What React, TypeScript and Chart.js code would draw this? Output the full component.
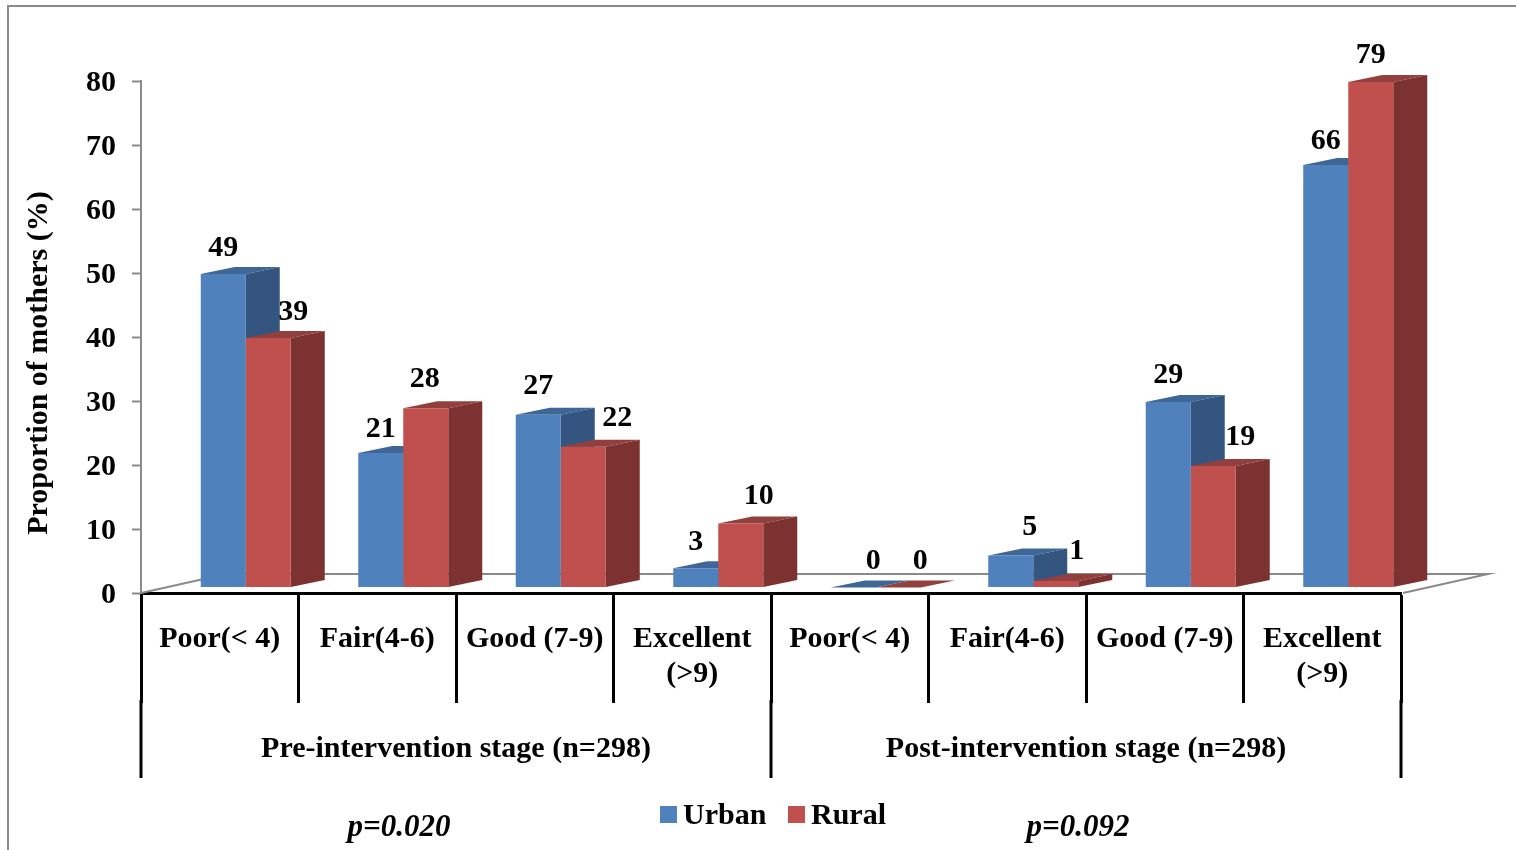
import React, { useEffect, useRef } from "react";
import { Chart, registerables } from "chart.js";

Chart.register(...registerables);

const categories: (string | string[])[] = [
  "Poor(< 4)",
  "Fair(4-6)",
  "Good (7-9)",
  ["Excellent", "(>9)"],
  "Poor(< 4)",
  "Fair(4-6)",
  "Good (7-9)",
  ["Excellent", "(>9)"],
];
const urban = [49, 21, 27, 3, 0, 5, 29, 66];
const rural = [39, 28, 22, 10, 0, 1, 19, 79];
const stages = ["Pre-intervention stage (n=298)", "Post-intervention stage (n=298)"];
const pValues = ["p=0.020", "p=0.092"];
const seriesNames = ["Urban", "Rural"];
const yTitle = "Proportion of mothers (%)";

// Nudges that keep the value labels clear of neighbouring columns.
const urbanLabelDx = [0, 0, 0, 0, 20, 19, 0, 0];
const ruralLabelDx = [25, -1, 34, 18, 22, 21, 27, 0];
const urbanLabelDy = [1, 3, -1, 1, 1, -1, 0, 3];
const ruralLabelDy = [1, -2, -1, 0, 1, -3, -2, 0];

const FONT = '"Liberation Serif"';
const BLUE = "#4F81BD";
const RED = "#C0504D";
const BLUE_TOP = "#3E6797";
const BLUE_SIDE = "#34557F";
const RED_TOP = "#92403D";
const RED_SIDE = "#7C3230";
const GREY = "#8A8A8A";

// Projection of the 3D look: front faces sit forward of the axis plane,
// and each column has depth running up and to the right.
const FRONT_DX = 26;
const FRONT_DY = -5.5;
const DEPTH_DX = 34;
const DEPTH_DY = -7;
const LABEL_LIFT = 27;

function drawFaces(ctx: any, meta: any, isUrban: boolean) {
  meta.data.forEach((bar: any) => {
    const half = bar.width / 2;
    const l = bar.x - half;
    const r = bar.x + half;
    const t = bar.y;
    const base = bar.base;
    // top face
    ctx.fillStyle = isUrban ? BLUE_TOP : RED_TOP;
    ctx.beginPath();
    ctx.moveTo(l, t);
    ctx.lineTo(l + DEPTH_DX, t + DEPTH_DY);
    ctx.lineTo(r + DEPTH_DX, t + DEPTH_DY);
    ctx.lineTo(r, t);
    ctx.closePath();
    ctx.fill();
    // side face
    if (base - t > 0) {
      ctx.fillStyle = isUrban ? BLUE_SIDE : RED_SIDE;
      ctx.beginPath();
      ctx.moveTo(r, t);
      ctx.lineTo(r + DEPTH_DX, t + DEPTH_DY);
      ctx.lineTo(r + DEPTH_DX, base + DEPTH_DY);
      ctx.lineTo(r, base);
      ctx.closePath();
      ctx.fill();
    }
  });
}

const box3d = {
  id: "box3d",
  beforeDatasetsDraw(chart: any) {
    const { ctx, chartArea } = chart;
    const b = chartArea.bottom;
    ctx.save();
    // Floor of the 3D plot
    ctx.strokeStyle = GREY;
    ctx.lineWidth = 2;
    ctx.beginPath();
    ctx.moveTo(chartArea.left, b);
    ctx.lineTo(chartArea.left + 85, b - 19);
    ctx.lineTo(chartArea.right + 87, b - 19);
    ctx.lineTo(chartArea.right + 2, b);
    ctx.stroke();
    // Urban depth faces go first so the rural columns can cover them
    ctx.translate(FRONT_DX, FRONT_DY);
    drawFaces(ctx, chart.getDatasetMeta(0), true);
    ctx.restore();
  },
  beforeDatasetDraw(chart: any, args: any) {
    const { ctx } = chart;
    ctx.save();
    ctx.translate(FRONT_DX, FRONT_DY);
    if (args.index === 1) drawFaces(ctx, args.meta, false);
  },
  afterDatasetDraw(chart: any) {
    chart.ctx.restore();
  },
};

const annotations = {
  id: "annotations",
  beforeDraw(chart: any) {
    // Outer chart frame: left and top edges only
    const { ctx, width, height } = chart;
    ctx.save();
    ctx.strokeStyle = GREY;
    ctx.lineWidth = 2;
    ctx.beginPath();
    ctx.moveTo(8, height);
    ctx.lineTo(8, 6);
    ctx.lineTo(width, 6);
    ctx.stroke();
    ctx.restore();
  },
  afterDatasetsDraw(chart: any) {
    const { ctx } = chart;
    const x = chart.scales.x;
    ctx.save();
    ctx.fillStyle = "#000";
    ctx.textAlign = "center";
    ctx.textBaseline = "middle";

    // Value labels above each column
    ctx.font = `bold 30px ${FONT}`;
    chart.getDatasetMeta(0).data.forEach((bar: any, i: number) => {
      ctx.fillText(
        String(urban[i]),
        bar.x + FRONT_DX + urbanLabelDx[i],
        bar.y + FRONT_DY - LABEL_LIFT + urbanLabelDy[i]
      );
    });
    chart.getDatasetMeta(1).data.forEach((bar: any, i: number) => {
      ctx.fillText(
        String(rural[i]),
        bar.x + FRONT_DX + ruralLabelDx[i],
        bar.y + FRONT_DY - LABEL_LIFT + ruralLabelDy[i]
      );
    });

    // Second level of the category axis
    const band = x.getPixelForValue(1) - x.getPixelForValue(0);
    const edge = (i: number) => x.getPixelForValue(0) - band / 2 + i * band;
    ctx.strokeStyle = "#000";
    ctx.lineWidth = 3;
    [0, 4, 8].forEach((i) => {
      ctx.beginPath();
      ctx.moveTo(edge(i), 700);
      ctx.lineTo(edge(i), 778);
      ctx.stroke();
    });
    stages.forEach((s, i) => ctx.fillText(s, edge(i * 4 + 2), 749));

    // Significance notes under each stage
    ctx.font = `italic bold 31px ${FONT}`;
    ctx.fillText(pValues[0], edge(2) - 57, 828);
    ctx.fillText(pValues[1], edge(6) - 8, 828);

    // Legend
    const items = chart.data.datasets;
    const legendX = [660, 788];
    ctx.textAlign = "left";
    ctx.font = `bold 30px ${FONT}`;
    items.forEach((d: any, i: number) => {
      ctx.fillStyle = d.backgroundColor;
      ctx.fillRect(legendX[i], 806, 17, 17);
      ctx.fillStyle = "#000";
      ctx.fillText(d.label, legendX[i] + 23, 816);
    });

    // Rotated value-axis title
    ctx.translate(39, 363);
    ctx.rotate(-Math.PI / 2);
    ctx.textAlign = "center";
    ctx.fillText(yTitle, 0, 0);
    ctx.restore();
  },
};

export default function App() {
  const ref = useRef<HTMLCanvasElement>(null);

  useEffect(() => {
    document.body.style.margin = "0";
    const chart = new Chart(ref.current as HTMLCanvasElement, {
      type: "bar",
      data: {
        labels: categories,
        datasets: [
          { label: seriesNames[0], data: urban, backgroundColor: BLUE, borderWidth: 0, clip: false },
          { label: seriesNames[1], data: rural, backgroundColor: RED, borderWidth: 0, clip: false },
        ],
      },
      options: {
        responsive: false,
        animation: false,
        devicePixelRatio: 1,
        layout: { padding: { top: 81, right: 115, bottom: 60, left: 0 } },
        datasets: { bar: { categoryPercentage: 0.5714, barPercentage: 1 } },
        plugins: { legend: { display: false }, title: { display: false }, tooltip: { enabled: false } },
        scales: {
          x: {
            afterFit(scale: any) {
              scale.height = 197;
            },
            border: { color: "#000", width: 3 },
            grid: { drawOnChartArea: false, tickLength: 110, tickWidth: 3, tickColor: "#000", color: "#000" },
            ticks: {
              autoSkip: false,
              maxRotation: 0,
              minRotation: 0,
              padding: -81,
              color: "#000",
              font: { family: FONT, size: 30, weight: "bold", lineHeight: 1.17 },
            },
          },
          y: {
            min: 0,
            max: 80,
            afterFit(scale: any) {
              scale.width = 141;
            },
            border: { color: GREY, width: 2 },
            grid: { drawOnChartArea: false, tickLength: 9, tickWidth: 2, tickColor: GREY, color: GREY },
            ticks: {
              stepSize: 10,
              padding: 16,
              color: "#000",
              // An empty leading line with a tight line height sets the digits
              // slightly below the canvas's middle baseline, level with the tick.
              callback: (v: any) => ["", String(v)],
              font: { family: FONT, size: 30, weight: "bold", lineHeight: "4px" },
            },
          },
        },
      },
      plugins: [box3d, annotations],
    } as any);
    return () => chart.destroy();
  }, []);

  return <canvas ref={ref} width={1516} height={850} style={{ display: "block" }} />;
}
